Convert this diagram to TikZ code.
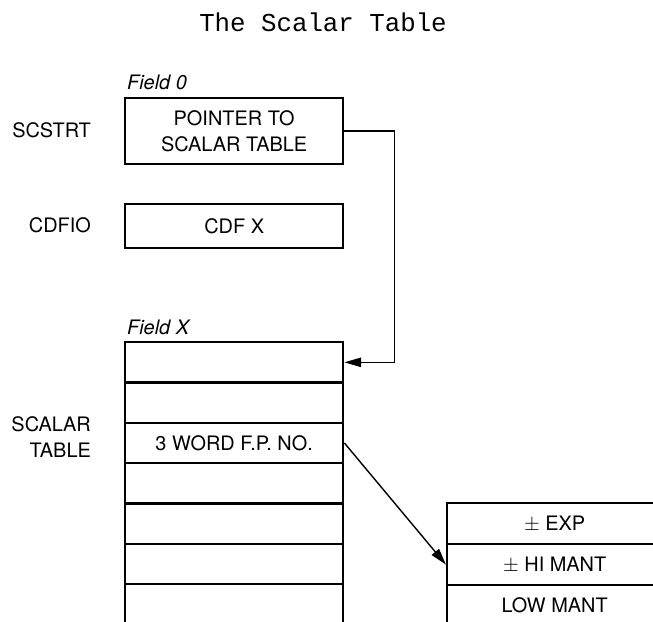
\documentclass[tikz,border=0pt]{standalone}
\usepackage{fontspec}
\setmainfont{TeX Gyre Heros}
\newfontfamily\titlefont{Liberation Mono}
\usetikzlibrary{arrows.meta}

\tikzset{
  lbl/.style={font=\fontsize{17}{22}\selectfont},
  cell/.style={lbl, draw, line width=2pt, inner sep=0pt, anchor=north west,
    minimum width=6.54cm, minimum height=1.21cm},
  slot/.style={cell, minimum width=6.45cm, minimum height=1.23cm},
  conn/.style={line width=1.2pt, -{Triangle[length=5mm,width=2.8mm]}}
}

\begin{document}
\begin{tikzpicture}[x=0.03cm, y=-0.03cm]
\useasboundingbox (0,0) rectangle (653,621);

\node[anchor=base] (title) at (323,32) {\titlefont\fontsize{22}{26}\selectfont The Scalar Table};

% field 0
\node[lbl, font=\fontsize{17}{22}\selectfont\itshape, anchor=base west] (f0) at (123,90) {Field 0};
\node[cell, minimum height=1.98cm, align=center] (scstrt) at (124,97) {POINTER TO\\SCALAR TABLE};
\node[lbl, anchor=east] (scstrtlbl) at (95,130) {SCSTRT};

\node[cell, minimum height=1.32cm] (cdfio) at (124,203) {CDF X};
\node[lbl, anchor=east] (cdfiolbl) at (95,225) {CDFIO};

% field X
\node[lbl, font=\fontsize{17}{22}\selectfont\itshape, anchor=base west] (fx) at (123,334) {Field X};
\node[cell] (row1) at (124,341) {};
\node[cell] (row2) at (124,381.3) {};
\node[cell] (row3) at (124,421.6) {3 WORD F.P. NO.};
\node[cell] (row4) at (124,461.9) {};
\node[cell] (row5) at (124,502.2) {};
\node[cell] (row6) at (124,542.5) {};
\node[cell] (row7) at (124,582.8) {};
\node[lbl, anchor=east, align=right] (tbllbl) at (95,437) {SCALAR\\TABLE};

% the 3 words
\node[slot] (exp) at (446,502) {$\pm$ EXP};
\node[slot] (himant) at (446,543) {$\pm$ HI MANT};
\node[slot] (lomant) at (446,584) {LOW MANT};

\draw[conn] (scstrt.east) -- ++(50,0) |- (row1.east);
\draw[conn] (row3.east) -- (himant.west);

\end{tikzpicture}
\end{document}
